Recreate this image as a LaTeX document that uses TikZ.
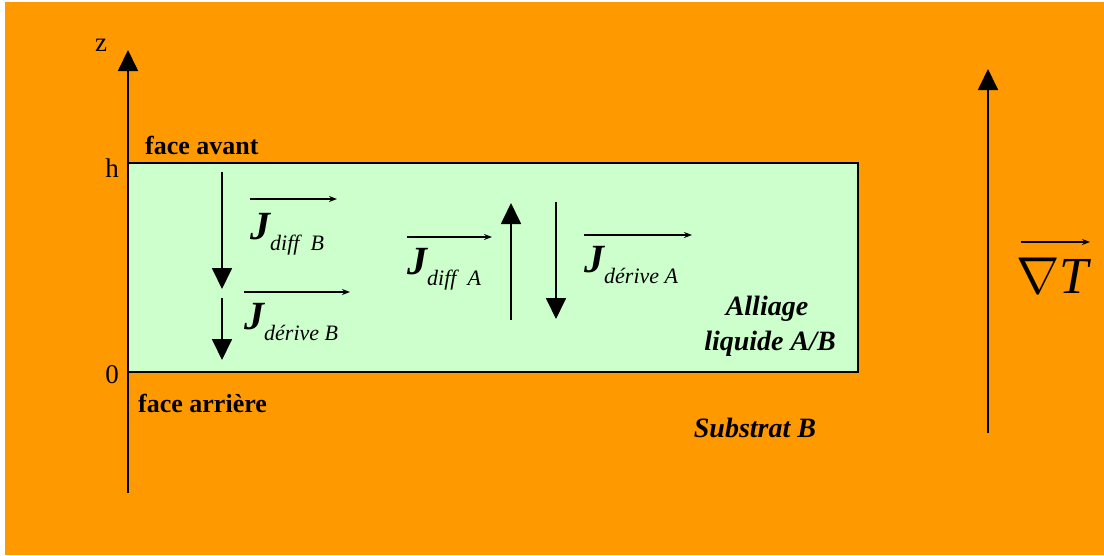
\documentclass[tikz,border=0pt]{standalone}
\usepackage{fix-cm}
\usepackage{fontspec}
\setmainfont{Liberation Serif}
\usetikzlibrary{arrows.meta}

\definecolor{substrat}{HTML}{FF9900}
\definecolor{alliage}{HTML}{CCFFCC}

\begin{document}
\begin{tikzpicture}[
    x=1pt, y=-1pt,
    >=Stealth,
    % Arrow styles
    fleche/.style={-{Triangle[width=20pt,length=21pt]}, line width=1.8pt},
    vecteur/.style={-{Stealth[width=6pt,length=8pt]}, line width=1.4pt},
    % Text styles
    repere/.style={font=\fontsize{27}{30}\selectfont, inner sep=0pt},
    face/.style={font=\fontsize{26}{30}\selectfont\bfseries, anchor=base west, inner sep=0pt},
    milieu/.style={font=\fontsize{28}{32}\selectfont\bfseries\itshape, inner sep=0pt},
    courant/.style={font=\fontsize{40}{40}\selectfont\bfseries\itshape, anchor=base west, inner sep=0pt}
]
\useasboundingbox (0,0) rectangle (1104,555);

% -----------------------------------------------------------
% Background: substrate and liquid layer
% -----------------------------------------------------------
\fill[white] (0,0) rectangle (1104,555);
\fill[substrat] (5,2) rectangle (1104,555);
\draw[fill=alliage, line width=1.8pt] (128,163) rectangle (858,372);

% -----------------------------------------------------------
% Axis z and labels
% -----------------------------------------------------------
\coordinate (zbas) at (128,493);
\coordinate (zhaut) at (128,50);
\draw[fleche] (zbas) -- (zhaut);

\node[repere] (lblz) at (101,45) {z};
\node[repere] (lblh) at (112,168) {h};
\node[repere] (lblzero) at (112,375) {0};
\node[face] (faceavant) at (145,154) {face avant};
\node[face] (facearriere) at (138,412) {face arrière};

% -----------------------------------------------------------
% Fluxes in the alloy
% -----------------------------------------------------------
\coordinate (diffBhaut) at (222,172);
\coordinate (diffBbas) at (222,289);
\coordinate (derBhaut) at (222,298);
\coordinate (derBbas) at (222,360);
\coordinate (diffAbas) at (511,320);
\coordinate (diffAhaut) at (511,203);
\coordinate (derAhaut) at (556,202);
\coordinate (derAbas) at (556,319);

\draw[fleche] (diffBhaut) -- (diffBbas);
\draw[fleche] (derBhaut) -- (derBbas);
\draw[fleche] (diffAbas) -- (diffAhaut);
\draw[fleche] (derAhaut) -- (derAbas);

\node[courant] (jdiffB) at (250,239) {J\raisebox{-11pt}{\fontsize{22}{22}\selectfont\mdseries diff\ \ B}};
\node[courant] (jderiveB) at (244,329) {J\raisebox{-11pt}{\fontsize{22}{22}\selectfont\mdseries dérive B}};
\node[courant] (jdiffA) at (407,274) {J\raisebox{-11pt}{\fontsize{22}{22}\selectfont\mdseries diff\ \ A}};
\node[courant] (jderiveA) at (584,272) {J\raisebox{-11pt}{\fontsize{22}{22}\selectfont\mdseries dérive A}};

\draw[vecteur] (250,199) -- (337,199);
\draw[vecteur] (244,292) -- (350,292);
\draw[vecteur] (407,237) -- (492,237);
\draw[vecteur] (584,235) -- (692,235);

% -----------------------------------------------------------
% Media and temperature gradient
% -----------------------------------------------------------
\node[milieu] (alliagetxt) at (767,315) [anchor=base] {Alliage};
\node[milieu] (liquidetxt) at (770,350) [anchor=base] {liquide A/B};
\node[milieu] (substrattxt) at (755,437) [anchor=base] {Substrat B};

\coordinate (gradbas) at (988,433);
\coordinate (gradhaut) at (988,69);
\draw[fleche] (gradbas) -- (gradhaut);

\node[inner sep=0pt, anchor=base west, font=\fontsize{52}{52}\selectfont] (gradT) at (1016,293) {$\nabla$\textit{T}};
\draw[vecteur] (1021,242) -- (1090,242);

\end{tikzpicture}
\end{document}
